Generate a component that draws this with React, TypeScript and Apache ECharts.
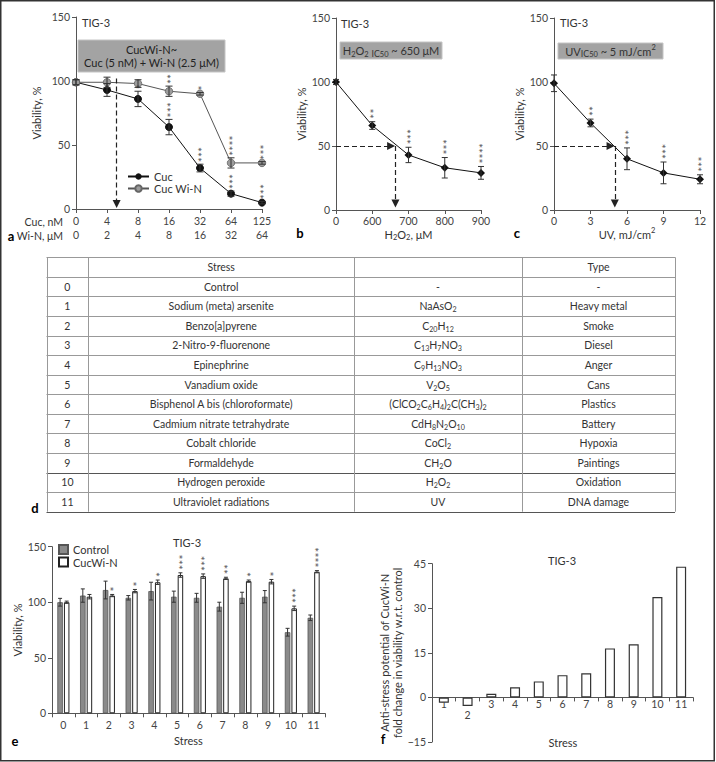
import React, { useEffect, useRef } from 'react';
import * as echarts from 'echarts';

const FONT = 'Lato, "Open Sans", sans-serif';
const TXT = '#333';
const AX = '#555';

// ---- Panel a: Cuc / Cuc + Wi-N dose response ----
const cucConc = ['0', '4', '8', '16', '32', '64', '125'];
const winConc = ['0', '2', '4', '8', '16', '32', '64'];
const cucViab = [99, 93, 86, 64, 32, 12, 5];
const cucSd = [2, 5, 6, 6, 3, 2, 1];
const cucStars = [0, 0, 1, 3, 3, 3, 3];
const cucWinViab = [99, 99, 98, 92, 90, 36, 36];
const cucWinSd = [2, 4, 3, 4, 1, 4, 1];
const cucWinStars = [0, 0, 0, 2, 1, 4, 3];
const aArrow = [1.31, 102, 4]; // x position (dose index), from, to

// ---- Panel b: H2O2 ----
const h2o2Doses = ['0', '600', '700', '800', '900'];
const h2o2Viab = [100, 66, 43, 33, 29];
const h2o2Sd = [2, 3, 6, 8, 5];
const h2o2Stars = [0, 2, 3, 3, 4];
const h2o2Ic50 = 1.64;

// ---- Panel c: UV ----
const uvDoses = [0, 3, 6, 9, 12];
const uvViab = [99, 68, 40, 29, 24];
const uvSd = [6.5, 3, 8.5, 8.5, 3.5];
const uvStars = [0, 2, 3, 3, 3];
const uvIc50 = 5;

// ---- Table d ----
const stressIds = ['0', '1', '2', '3', '4', '5', '6', '7', '8', '9', '10', '11'];
const stressNames = [
  'Control', 'Sodium (meta) arsenite', 'Benzo[a]pyrene', '2-Nitro-9-fluorenone', 'Epinephrine',
  'Vanadium oxide', 'Bisphenol A bis (chloroformate)', 'Cadmium nitrate tetrahydrate',
  'Cobalt chloride', 'Formaldehyde', 'Hydrogen peroxide', 'Ultraviolet radiations',
];
const stressFormulas = [
  '-', 'NaAsO_2', 'C_20H_12', 'C_13H_7NO_3', 'C_9H_13NO_3', 'V_2O_5', '(ClCO_2C_6H_4)_2C(CH_3)_2',
  'CdH_8N_2O_10', 'CoCl_2', 'CH_2O', 'H_2O_2', 'UV',
];
const stressTypes = [
  '-', 'Heavy metal', 'Smoke', 'Diesel', 'Anger', 'Cans', 'Plastics', 'Battery', 'Hypoxia',
  'Paintings', 'Oxidation', 'DNA damage',
];

// ---- Panel e ----
const stressCats = ['0', '1', '2', '3', '4', '5', '6', '7', '8', '9', '10', '11'];
const ctrlViab = [100, 106, 111, 104, 110, 105, 104, 96, 104, 105, 73, 86];
const ctrlSd = [3.5, 6, 8, 2, 8, 5, 4, 4, 5, 5.5, 3.5, 2.5];
const cwnViab = [100, 105, 106, 110, 118, 124.5, 123.5, 121.5, 119, 118.5, 94.5, 127.5];
const cwnSd = [1, 2, 1, 1.5, 2, 2, 2, 1, 1, 2, 2, 1];
const cwnStars = [0, 0, 1, 1, 1, 3, 3, 2, 1, 1, 3, 4];

// ---- Panel f ----
const foldCats = ['1', '2', '3', '4', '5', '6', '7', '8', '9', '10', '11'];
const foldChange = [-1.8, -2.9, 1.2, 3.4, 5.4, 7.5, 8.1, 16.5, 17.9, 33.8, 44];

function toRich(s: string): string {
  let out = '';
  const re = /([_^])(\d+)|([^_^]+)/g;
  let m: RegExpExecArray | null;
  while ((m = re.exec(s))) {
    if (m[3]) out += `{n|${m[3]}}`;
    else out += `{${m[1] === '_' ? 's' : 'p'}|${m[2]}}`;
  }
  return out;
}

const zrRich = (fs: number) => ({
  n: { fontSize: fs, lineHeight: 14, verticalAlign: 'middle', fontFamily: FONT, fill: TXT },
  s: { fontSize: fs * 0.68, lineHeight: 8, verticalAlign: 'bottom', fontFamily: FONT, fill: TXT },
  p: { fontSize: fs * 0.68, lineHeight: 8, verticalAlign: 'top', fontFamily: FONT, fill: TXT },
  ic: { fontSize: fs * 0.8, lineHeight: 11, verticalAlign: 'bottom', fontFamily: FONT, fill: TXT },
});

const ecRich = (fs: number) => ({
  n: { fontSize: fs, lineHeight: 14, verticalAlign: 'middle', fontFamily: FONT, color: TXT },
  s: { fontSize: fs * 0.68, lineHeight: 8, verticalAlign: 'bottom', fontFamily: FONT, color: TXT },
  p: { fontSize: fs * 0.68, lineHeight: 8, verticalAlign: 'top', fontFamily: FONT, color: TXT },
});

function errSeries(xi: number, yi: number, xs: number[], ys: number[], sds: number[], stars: number[], opts: any) {
  return {
    type: 'custom',
    xAxisIndex: xi,
    yAxisIndex: yi,
    z: 5,
    silent: true,
    clip: false,
    data: ys.map((v, i) => [xs[i], v, sds[i], stars[i]]),
    renderItem: (_p: any, api: any) => {
      const x = api.value(0), y = api.value(1), sd = api.value(2), n = api.value(3);
      const pt = api.coord([x, y + sd]);
      const pb = api.coord([x, y - sd]);
      const cx = pt[0] + (opts.offset || 0);
      const w = opts.cap / 2;
      const st = { stroke: opts.color || '#333', lineWidth: 1 };
      const ch: any[] = [];
      if (sd > 0) {
        ch.push({ type: 'line', shape: { x1: cx, y1: pt[1], x2: cx, y2: pb[1] }, style: st });
        ch.push({ type: 'line', shape: { x1: cx - w, y1: pt[1], x2: cx + w, y2: pt[1] }, style: st });
        ch.push({ type: 'line', shape: { x1: cx - w, y1: pb[1], x2: cx + w, y2: pb[1] }, style: st });
      }
      if (n > 0) {
        ch.push({
          type: 'text',
          x: cx + 2.6,
          y: pt[1] - opts.starGap,
          rotation: Math.PI / 2,
          style: { text: '*'.repeat(n), fill: '#555', fontSize: 12, fontFamily: FONT, align: 'left', verticalAlign: 'middle' },
        });
      }
      return { type: 'group', children: ch };
    },
  };
}

const yAxisBase = (gi: number, min: number, max: number, interval: number, name: string, gap: number) => ({
  type: 'value',
  gridIndex: gi,
  min,
  max,
  interval,
  name,
  nameLocation: 'middle',
  nameGap: gap,
  nameTextStyle: { fontSize: 11, color: TXT, fontFamily: FONT, lineHeight: 13 },
  axisLine: { show: true, lineStyle: { color: AX, width: 1 } },
  axisTick: { show: true, length: 4, lineStyle: { color: AX } },
  splitLine: { show: false },
  axisLabel: {
    fontSize: 10.5, color: '#444', fontFamily: FONT, margin: 6,
    formatter: (v: number) => String(v).replace('-', '\u2212'),
  },
});

export default function App() {
  const ref = useRef<HTMLDivElement>(null);
  useEffect(() => {
    if (!ref.current) return;
    const chart = echarts.init(ref.current, null, { renderer: 'svg' });

    const graphics: any[] = [];
    graphics.push({ type: 'rect', shape: { x: 0.75, y: 0.75, width: 713.5, height: 760 }, style: { fill: 'none', stroke: '#333', lineWidth: 1.5 }, silent: true });

    const box = (x: number, y: number, w: number, h: number) => ({
      type: 'rect', shape: { x, y, width: w, height: h }, style: { fill: '#a3a3a3', stroke: '#c4c4c4', lineWidth: 1 }, silent: true,
    });
    graphics.push(box(78, 40, 147, 32));
    graphics.push({ type: 'text', x: 151.5, y: 49, style: { text: 'CucWi-N~', fontSize: 11, fontFamily: FONT, fill: '#222', align: 'center', verticalAlign: 'middle' } });
    graphics.push({ type: 'text', x: 151.5, y: 62.5, style: { text: 'Cuc (5 nM) + Wi-N (2.5 \u03bcM)', fontSize: 11, fontFamily: FONT, fill: '#222', align: 'center', verticalAlign: 'middle' } });
    graphics.push(box(340, 42, 102, 17));
    graphics.push({
      type: 'text', x: 391, y: 50.5,
      style: {
        text: '{n|H}{s|2}{n|O}{s|2}{n| }{ic|IC}{s|50}{n| ~ 650 \u03bcM}', rich: zrRich(11),
        align: 'center', verticalAlign: 'middle',
      },
    });
    graphics.push(box(558, 43, 105, 16));
    graphics.push({
      type: 'text', x: 610.5, y: 51,
      style: {
        text: '{n|UV}{ic|IC}{s|50}{n| ~ 5 mJ/cm}{p|2}', rich: zrRich(11),
        align: 'center', verticalAlign: 'middle',
      },
    });

    const tText = (x: number, y: number, text: string, align = 'left', fs = 11, bold = false) => ({
      type: 'text', x, y, silent: true,
      style: { text, fontSize: fs, fontFamily: FONT, fill: bold ? '#000' : TXT, fontWeight: bold ? 'bold' : 'normal', align, verticalAlign: 'middle' },
    });
    graphics.push(tText(82, 22, 'TIG-3'));
    graphics.push(tText(341, 23, 'TIG-3'));
    graphics.push(tText(560, 22, 'TIG-3'));
    graphics.push(tText(187, 542, 'TIG-3', 'center'));
    graphics.push(tText(562, 560, 'TIG-3', 'center'));
    graphics.push(tText(563, 742, 'Stress', 'center'));
    graphics.push(tText(63, 222, 'Cuc, nM', 'right', 10.5));
    graphics.push(tText(63, 236, 'Wi-N, \u03bcM', 'right', 10.5));
    graphics.push(tText(11, 236, 'a', 'center', 13, true));
    graphics.push(tText(300, 233, 'b', 'center', 13, true));
    graphics.push(tText(517, 233, 'c', 'center', 13, true));
    graphics.push(tText(35, 508, 'd', 'center', 13, true));
    graphics.push(tText(15, 741, 'e', 'center', 13, true));
    graphics.push(tText(383, 739, 'f', 'center', 13, true));

    // table d
    const cols = [46.5, 88.3, 354, 522, 675];
    const tTop = 257.3;
    const rowH = 19.57;
    const nRows = stressIds.length + 1;
    for (let r = 0; r <= nRows; r++) {
      const y = Math.round(tTop + r * rowH) + 0.5;
      const dark = r === nRows || r === 11;
      graphics.push({ type: 'line', silent: true, shape: { x1: cols[0], y1: y, x2: cols[4], y2: y }, style: { stroke: dark ? '#555' : '#999', lineWidth: 1 } });
    }
    cols.forEach((c) => {
      graphics.push({ type: 'line', silent: true, shape: { x1: Math.round(c) + 0.5, y1: tTop, x2: Math.round(c) + 0.5, y2: tTop + nRows * rowH }, style: { stroke: '#999', lineWidth: 1 } });
    });
    const cellText = (col: number, row: number, txt: string) => ({
      type: 'text', silent: true,
      x: (cols[col] + cols[col + 1]) / 2,
      y: tTop + (row + 0.5) * rowH,
      style: { text: toRich(txt), rich: zrRich(10.5), align: 'center', verticalAlign: 'middle' },
    });
    graphics.push(cellText(1, 0, 'Stress'));
    graphics.push(cellText(3, 0, 'Type'));
    stressIds.forEach((id, i) => {
      graphics.push(cellText(0, i + 1, id));
      graphics.push(cellText(1, i + 1, stressNames[i]));
      graphics.push(cellText(2, i + 1, stressFormulas[i]));
      graphics.push(cellText(3, i + 1, stressTypes[i]));
    });

    const dashed = { type: [5, 3], color: '#222', width: 1.2 };
    const gridBase = { outerBoundsMode: 'none', containLabel: false };

    const option: any = {
      animation: false,
      textStyle: { fontFamily: FONT },
      grid: [
        { ...gridBase, left: 76, top: 17, width: 186, height: 192 },
        { ...gridBase, left: 336, top: 18, width: 145, height: 192 },
        { ...gridBase, left: 554, top: 18, width: 146, height: 192 },
        { ...gridBase, left: 52, top: 546.7, width: 273, height: 166.6 },
        { ...gridBase, left: 432, top: 563.7, width: 261, height: 178.3 },
      ],
      legend: [
        {
          data: ['Cuc', 'Cuc Wi-N'], orient: 'vertical', left: 127, top: 171, padding: 0,
          itemWidth: 21, itemHeight: 8, itemGap: 1, selectedMode: false,
          textStyle: { fontSize: 11, color: TXT, fontFamily: FONT },
        },
        {
          data: ['Control', 'CucWi-N'], orient: 'vertical', left: 58, top: 544, padding: 0,
          itemWidth: 9, itemHeight: 9, itemGap: 1.5, icon: 'rect', selectedMode: false,
          textStyle: { fontSize: 11, color: TXT, fontFamily: FONT },
        },
      ],
      xAxis: [
        {
          type: 'value', gridIndex: 0, min: 0, max: 6, interval: 1,
          axisLine: { show: true, lineStyle: { color: AX } },
          axisTick: { show: true, length: 4, lineStyle: { color: AX } },
          splitLine: { show: false },
          axisLabel: {
            fontSize: 10.5, color: '#444', fontFamily: FONT, margin: 5, lineHeight: 14,
            formatter: (v: number) => `${cucConc[v]}\n${winConc[v]}`,
          },
        },
        {
          type: 'value', gridIndex: 1, min: 0, max: 4, interval: 1,
          name: '{n|H}{s|2}{n|O}{s|2}{n|, \u03bcM}', nameLocation: 'middle', nameGap: 17,
          nameTextStyle: { rich: ecRich(11) },
          axisLine: { show: true, lineStyle: { color: AX } },
          axisTick: { show: true, length: 4, lineStyle: { color: AX } },
          splitLine: { show: false },
          axisLabel: { fontSize: 10.5, color: '#444', fontFamily: FONT, margin: 5, formatter: (v: number) => h2o2Doses[v] },
        },
        {
          type: 'value', gridIndex: 2, min: 0, max: 12, interval: 3,
          name: '{n|UV, mJ/cm}{p|2}', nameLocation: 'middle', nameGap: 17,
          nameTextStyle: { rich: ecRich(11) },
          axisLine: { show: true, lineStyle: { color: AX } },
          axisTick: { show: true, length: 4, lineStyle: { color: AX } },
          splitLine: { show: false },
          axisLabel: { fontSize: 10.5, color: '#444', fontFamily: FONT, margin: 5 },
        },
        {
          type: 'category', gridIndex: 3, data: stressCats,
          name: 'Stress', nameLocation: 'middle', nameGap: 22,
          nameTextStyle: { fontSize: 11, color: TXT, fontFamily: FONT },
          axisLine: { show: true, lineStyle: { color: AX } },
          axisTick: { show: true, length: 4, lineStyle: { color: AX } },
          axisLabel: { fontSize: 10.5, color: '#444', fontFamily: FONT, margin: 6, interval: 0 },
        },
        {
          type: 'category', gridIndex: 4, data: foldCats,
          axisLine: { show: true, onZero: true, lineStyle: { color: AX } },
          axisTick: { show: true, length: 4, lineStyle: { color: AX } },
          axisLabel: {
            fontSize: 10.5, color: '#444', fontFamily: FONT, margin: -44, interval: 0,
            formatter: (v: string) => (v === '2' ? `{lo|${v}}` : v),
            rich: { lo: { fontSize: 10.5, color: '#444', fontFamily: FONT, padding: [11, 0, 0, 0] } },
          },
        },
      ],
      yAxis: [
        yAxisBase(0, 0, 150, 50, 'Viability, %', 33),
        yAxisBase(1, 0, 150, 50, 'Viability, %', 28),
        yAxisBase(2, 0, 150, 50, 'Viability, %', 28),
        yAxisBase(3, 0, 150, 50, 'Viability, %', 28),
        yAxisBase(4, -15, 45, 15, 'Anti-stress potential of CucWi-N\nfold change in viability w.r.t. control', 28),
      ],
      series: [
        {
          name: 'Cuc', type: 'line', xAxisIndex: 0, yAxisIndex: 0,
          data: cucViab.map((v, i) => [i, v]),
          symbol: 'circle', symbolSize: 7,
          lineStyle: { color: '#111', width: 1 },
          itemStyle: { color: '#111', borderColor: '#111' },
          z: 3,
          markLine: {
            silent: true, symbol: ['none', 'triangle'], symbolSize: 8,
            label: { show: false }, lineStyle: dashed,
            data: [[{ coord: [aArrow[0], aArrow[1]] }, { coord: [aArrow[0], aArrow[2]] }]],
          },
        },
        {
          name: 'Cuc Wi-N', type: 'line', xAxisIndex: 0, yAxisIndex: 0,
          data: cucWinViab.map((v, i) => [i, v]),
          symbol: 'circle', symbolSize: 7.5,
          lineStyle: { color: '#555', width: 1 },
          itemStyle: { color: '#9c9c9c', borderColor: '#666', borderWidth: 0.8 },
          z: 3,
        },
        errSeries(0, 0, cucViab.map((_, i) => i), cucViab, cucSd, cucStars, { cap: 7, starGap: 2 }),
        errSeries(0, 0, cucWinViab.map((_, i) => i), cucWinViab, cucWinSd, cucWinStars, { cap: 7, starGap: 2 }),
        {
          name: 'H2O2', type: 'line', xAxisIndex: 1, yAxisIndex: 1,
          data: h2o2Viab.map((v, i) => [i, v]),
          symbol: 'diamond', symbolSize: 8,
          lineStyle: { color: '#111', width: 1 },
          itemStyle: { color: '#111' },
          z: 3,
          markLine: {
            silent: true, symbol: ['none', 'triangle'], symbolSize: 8,
            label: { show: false }, lineStyle: dashed,
            data: [
              [{ coord: [0, 50] }, { coord: [h2o2Ic50 - 0.12, 50] }],
              [{ coord: [h2o2Ic50, 50] }, { coord: [h2o2Ic50, 5] }],
            ],
          },
        },
        errSeries(1, 1, h2o2Viab.map((_, i) => i), h2o2Viab, h2o2Sd, h2o2Stars, { cap: 6, starGap: 3 }),
        {
          name: 'UV', type: 'line', xAxisIndex: 2, yAxisIndex: 2,
          data: uvViab.map((v, i) => [uvDoses[i], v]),
          symbol: 'diamond', symbolSize: 8,
          lineStyle: { color: '#111', width: 1 },
          itemStyle: { color: '#111' },
          z: 3,
          markLine: {
            silent: true, symbol: ['none', 'triangle'], symbolSize: 8,
            label: { show: false }, lineStyle: dashed,
            data: [
              [{ coord: [0, 50] }, { coord: [uvIc50 - 0.35, 50] }],
              [{ coord: [uvIc50, 50] }, { coord: [uvIc50, 5] }],
            ],
          },
        },
        errSeries(2, 2, uvDoses, uvViab, uvSd, uvStars, { cap: 6, starGap: 3 }),
        {
          name: 'Control', type: 'bar', xAxisIndex: 3, yAxisIndex: 3,
          data: ctrlViab, barWidth: 5.5, barGap: '20%',
          itemStyle: { color: '#8a8a8a', borderColor: '#555', borderWidth: 0.8 },
        },
        {
          name: 'CucWi-N', type: 'bar', xAxisIndex: 3, yAxisIndex: 3,
          data: cwnViab, barWidth: 5.5, barGap: '20%',
          itemStyle: { color: '#fff', borderColor: '#222', borderWidth: 1 },
        },
        errSeries(3, 3, ctrlViab.map((_, i) => i), ctrlViab, ctrlSd, ctrlViab.map(() => 0), { cap: 4, starGap: 4, offset: -3.3 }),
        errSeries(3, 3, cwnViab.map((_, i) => i), cwnViab, cwnSd, cwnStars, { cap: 4, starGap: 3, offset: 3.3 }),
        {
          name: 'fold', type: 'bar', xAxisIndex: 4, yAxisIndex: 4,
          data: foldChange, barWidth: 10,
          itemStyle: { color: '#fff', borderColor: '#333', borderWidth: 1.2 },
        },
      ],
      graphic: graphics,
    };
    chart.setOption(option);
    return () => chart.dispose();
  }, []);
  return <div ref={ref} style={{ position: 'absolute', left: 0, top: 0, width: 716, height: 762, background: '#fff' }} />;
}
